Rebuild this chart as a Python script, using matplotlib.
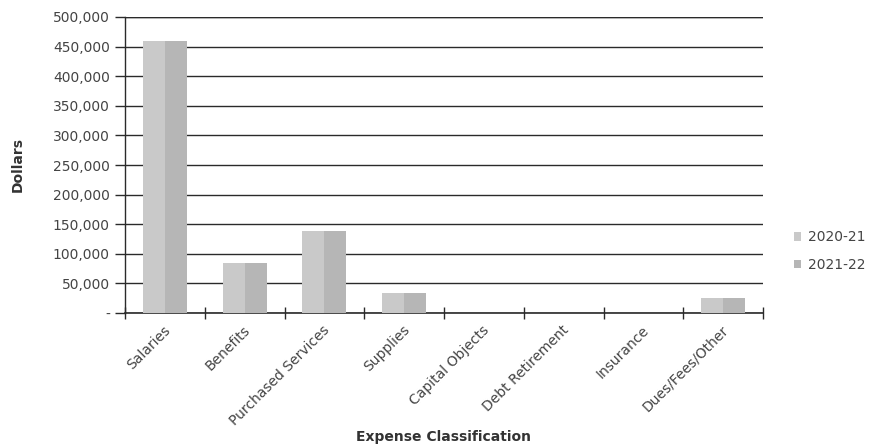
import matplotlib.pyplot as plt
import numpy as np
from matplotlib.ticker import FuncFormatter, MultipleLocator

categories = ['Salaries', 'Benefits', 'Purchased Services', 'Supplies',
              'Capital Objects', 'Debt Retirement', 'Insurance', 'Dues/Fees/Other']
fy_2021 = [460000, 84000, 138000, 33000, 0, 0, 0, 26000]
fy_2122 = [460000, 84000, 138000, 33000, 0, 0, 0, 26000]
series_names = ['2020-21', '2021-22']

plt.rcParams['font.family'] = 'DejaVu Sans'

fig = plt.figure(figsize=(8.75, 4.45), dpi=100)
ax = fig.add_axes([0.1429, 0.2966, 0.7291, 0.6652])

x = np.arange(len(categories))
w = 0.275
b1 = ax.bar(x - w / 2, fy_2021, width=w, color='#c9c9c9', zorder=3, label=series_names[0])
b2 = ax.bar(x + w / 2, fy_2122, width=w, color='#b6b6b6', zorder=3, label=series_names[1])

ax.set_xlim(-0.5, len(categories) - 0.5)
ax.set_ylim(0, 500000)
ax.yaxis.set_major_locator(MultipleLocator(50000))
ax.yaxis.set_major_formatter(FuncFormatter(lambda v, p: '-' if v == 0 else f'{v:,.0f}'))
ax.grid(axis='y', color='#2a2a2a', linewidth=1.0, zorder=1)

ax.set_xticks(x, labels=[])
ax.set_xticks(np.arange(len(categories) + 1) - 0.5, minor=True)
ax.tick_params(axis='x', which='major', length=0)
ax.tick_params(axis='x', which='minor', direction='inout', length=8, width=1.0, color='#2a2a2a')
ax.tick_params(axis='y', direction='out', length=7, width=1.0, color='#2a2a2a',
               labelsize=10, labelcolor='#444444', pad=4)

# category names slanted under each group
for xi, name in zip(x, categories):
    ax.text(xi - 0.02, -17000, name, rotation=45, ha='right', va='top',
            rotation_mode='anchor', fontsize=10, color='#444444')

for side in ['top', 'right']:
    ax.spines[side].set_visible(False)
ax.spines['left'].set_color('#2a2a2a')
ax.spines['bottom'].set_color('#2a2a2a')
ax.spines['left'].set_linewidth(1.0)
ax.spines['bottom'].set_linewidth(1.2)
ax.axhline(500000, color='#2a2a2a', linewidth=1.0, zorder=1)

fig.text(18 / 875, 1 - 165 / 445, 'Dollars', rotation=90, ha='center', va='center',
         fontsize=10, fontweight='bold', color='#333333')
fig.text(443 / 875, 1 - 437 / 445, 'Expense Classification', ha='center', va='center',
         fontsize=10, fontweight='bold', color='#333333')

fig.legend(handles=[b1, b2], labels=series_names, loc='center left',
           bbox_to_anchor=(781 / 875, 1 - 251 / 445), frameon=False,
           fontsize=10, handlelength=0.55, handleheight=0.55, handletextpad=0.5,
           labelspacing=0.95, labelcolor='#444444')

fig.savefig('out.png', dpi=100)
